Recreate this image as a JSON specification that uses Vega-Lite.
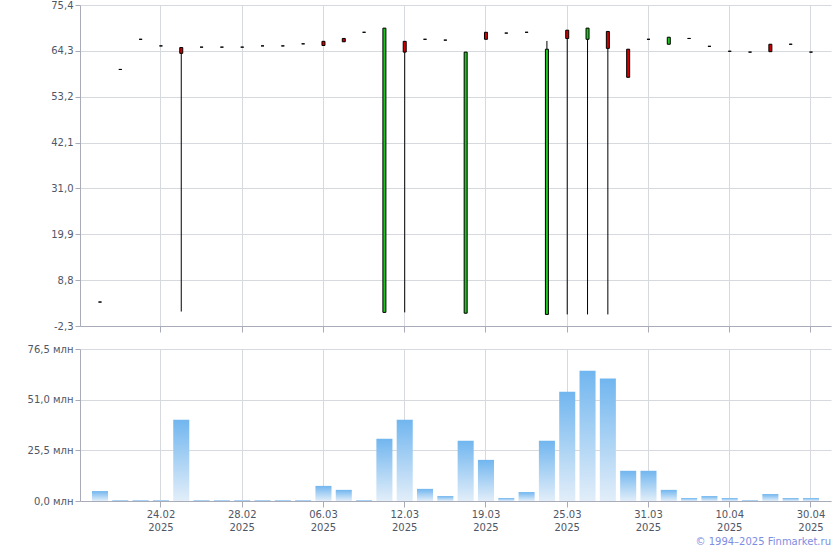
{
  "$schema": "https://vega.github.io/schema/vega-lite/v6.json",
  "padding": {"left": 27, "top": 0, "right": 10, "bottom": 3},
  "background": "white",
  "title": {"text": "© 1994–2025 Finmarket.ru", "orient": "bottom", "anchor": "end", "color": "#7d8de2", "font": "DejaVu Sans", "fontSize": 10, "fontWeight": "normal", "offset": 5},
  "config": {
    "view": {"stroke": null},
    "axis": {"labelFont": "DejaVu Sans", "labelFontSize": 10, "labelColor": "#4f5766", "domainColor": "#a9abb8", "tickColor": "#a9abb8", "gridColor": "#d6dadf", "tickSize": 5, "title": null}
  },
  "data": {"values": [
    {"d": "19.02", "o": 3.5, "c": 3.5, "h": 3.5, "l": 3.5, "v": 5.0},
    {"d": "20.02", "o": 59.8, "c": 59.8, "h": 59.8, "l": 59.8, "v": 0.5},
    {"d": "21.02", "o": 67.1, "c": 67.1, "h": 67.1, "l": 67.1, "v": 0.5},
    {"d": "24.02", "o": 65.5, "c": 65.5, "h": 65.5, "l": 65.5, "v": 0.5},
    {"d": "25.02", "o": 65.1, "c": 63.7, "h": 65.1, "l": 1.2, "v": 40.9},
    {"d": "26.02", "o": 65.2, "c": 65.2, "h": 65.2, "l": 65.2, "v": 0.5},
    {"d": "27.02", "o": 65.2, "c": 65.2, "h": 65.2, "l": 65.2, "v": 0.5},
    {"d": "28.02", "o": 65.2, "c": 65.2, "h": 65.2, "l": 65.2, "v": 0.5},
    {"d": "03.03", "o": 65.5, "c": 65.5, "h": 65.5, "l": 65.5, "v": 0.5},
    {"d": "04.03", "o": 65.5, "c": 65.5, "h": 65.5, "l": 65.5, "v": 0.5},
    {"d": "05.03", "o": 66.0, "c": 66.0, "h": 66.0, "l": 66.0, "v": 0.5},
    {"d": "06.03", "o": 66.6, "c": 65.6, "h": 66.6, "l": 65.6, "v": 7.6},
    {"d": "07.03", "o": 67.3, "c": 66.5, "h": 67.3, "l": 66.5, "v": 5.6},
    {"d": "10.03", "o": 68.8, "c": 68.8, "h": 68.8, "l": 68.8, "v": 0.5},
    {"d": "11.03", "o": 1.0, "c": 69.8, "h": 69.8, "l": 1.0, "v": 31.3},
    {"d": "12.03", "o": 66.6, "c": 64.0, "h": 66.6, "l": 1.0, "v": 40.9},
    {"d": "13.03", "o": 67.1, "c": 67.1, "h": 67.1, "l": 67.1, "v": 6.1},
    {"d": "14.03", "o": 66.9, "c": 66.9, "h": 66.9, "l": 66.9, "v": 2.5},
    {"d": "17.03", "o": 0.8, "c": 64.0, "h": 64.0, "l": 0.8, "v": 30.3},
    {"d": "19.03", "o": 68.8, "c": 67.1, "h": 68.8, "l": 67.1, "v": 20.7},
    {"d": "20.03", "o": 68.6, "c": 68.6, "h": 68.6, "l": 68.6, "v": 1.5},
    {"d": "21.03", "o": 68.8, "c": 68.8, "h": 68.8, "l": 68.8, "v": 4.5},
    {"d": "24.03", "o": 0.5, "c": 64.7, "h": 66.7, "l": 0.5, "v": 30.3},
    {"d": "25.03", "o": 69.3, "c": 67.3, "h": 69.3, "l": 0.5, "v": 55.0},
    {"d": "26.03", "o": 67.1, "c": 69.8, "h": 69.8, "l": 0.5, "v": 65.6},
    {"d": "27.03", "o": 69.0, "c": 64.9, "h": 69.0, "l": 0.5, "v": 61.6},
    {"d": "28.03", "o": 64.7, "c": 57.9, "h": 64.7, "l": 57.9, "v": 15.2},
    {"d": "31.03", "o": 67.1, "c": 67.1, "h": 67.1, "l": 67.1, "v": 15.2},
    {"d": "01.04", "o": 65.9, "c": 67.6, "h": 67.6, "l": 65.9, "v": 5.6},
    {"d": "03.04", "o": 67.3, "c": 67.3, "h": 67.3, "l": 67.3, "v": 1.5},
    {"d": "07.04", "o": 65.4, "c": 65.4, "h": 65.4, "l": 65.4, "v": 2.5},
    {"d": "10.04", "o": 64.2, "c": 64.2, "h": 64.2, "l": 64.2, "v": 1.5},
    {"d": "15.04", "o": 64.0, "c": 64.0, "h": 64.0, "l": 64.0, "v": 0.5},
    {"d": "21.04", "o": 65.9, "c": 64.1, "h": 65.9, "l": 64.1, "v": 3.5},
    {"d": "25.04", "o": 65.9, "c": 65.9, "h": 65.9, "l": 65.9, "v": 1.5},
    {"d": "30.04", "o": 64.0, "c": 64.0, "h": 64.0, "l": 64.0, "v": 1.5}
  ]},
  "bounds": "flush",
  "spacing": 23,
  "vconcat": [
    {
      "width": 751,
      "height": 321,
      "encoding": {
        "x": {"field": "d", "type": "ordinal", "sort": null,
              "scale": {"paddingInner": 0.21, "paddingOuter": 0.59},
              "axis": {"labels": false, "values": ["24.02", "28.02", "06.03", "12.03", "19.03", "25.03", "31.03", "10.04", "30.04"], "grid": true, "ticks": true, "tickSize": 6}}
      },
      "layer": [
        {
          "mark": {"type": "rule", "color": "black", "strokeWidth": 1},
          "encoding": {
            "y": {"field": "l", "type": "quantitative",
                  "scale": {"domain": [-2.3, 75.4], "nice": false, "zero": false},
                  "axis": {"values": [-2.3, 8.8, 19.9, 31.0, 42.1, 53.2, 64.3, 75.4], "grid": true, "labelExpr": "replace(replace(format(datum.value, '.1f'), '.', ','), '−', '-')"}},
            "y2": {"field": "h"}
          }
        },
        {
          "mark": {"type": "bar", "width": 3, "stroke": "black", "strokeWidth": 1},
          "encoding": {
            "y": {"field": "o", "type": "quantitative"},
            "y2": {"field": "c"},
            "fill": {"condition": {"test": "datum.c > datum.o", "value": "#1fc41f"}, "value": "#d10000"}
          }
        }
      ]
    },
    {
      "width": 751,
      "height": 152,
      "mark": {"type": "bar", "color": {"gradient": "linear", "x1": 0, "y1": 0, "x2": 0, "y2": 1, "stops": [{"offset": 0, "color": "#71b6ef"}, {"offset": 1, "color": "#e2eef9"}]}},
      "encoding": {
        "x": {"field": "d", "type": "ordinal", "sort": null,
              "scale": {"paddingInner": 0.21, "paddingOuter": 0.59},
              "axis": {"values": ["24.02", "28.02", "06.03", "12.03", "19.03", "25.03", "31.03", "10.04", "30.04"], "grid": true, "labelAngle": 0, "tickSize": 6, "labelExpr": "[datum.value, '2025']", "labelLineHeight": 13, "labelPadding": 2}},
        "y": {"field": "v", "type": "quantitative",
              "scale": {"domain": [0, 76.5], "nice": false},
              "axis": {"values": [0, 25.5, 51.0, 76.5], "grid": true, "labelExpr": "replace(format(datum.value, '.1f'), '.', ',') + ' млн'"}}
      }
    }
  ]
}
